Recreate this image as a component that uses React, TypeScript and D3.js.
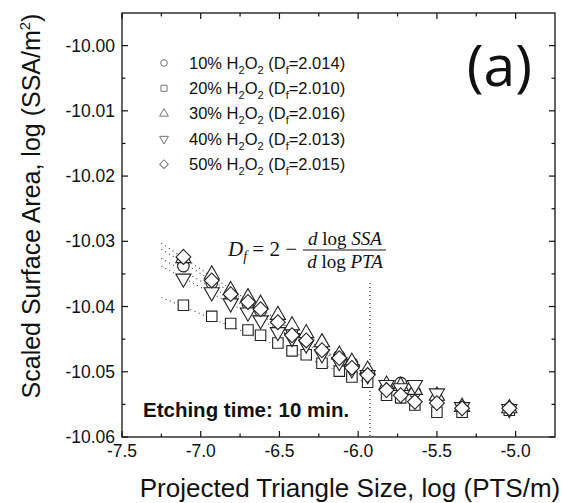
import React from "react";
import * as d3 from "d3";

// x positions, log(PTS/m)
const ptsLog = [-7.11, -6.93, -6.81, -6.7, -6.62, -6.51, -6.42, -6.33, -6.23, -6.12, -6.04, -5.94, -5.82, -5.73, -5.64, -5.5, -5.34, -5.04];

// log(SSA/m^2) for each H2O2 concentration
const ssa10 = [-10.0338, -10.0364, -10.0384, -10.0396, -10.0407, -10.0421, -10.0436, -10.0447, -10.0461, -10.0476, -10.0487, -10.0502, -10.0525, -10.0517, -10.0531, -10.0543, -10.0554, -10.0556];
const ssa20 = [-10.0398, -10.0415, -10.0426, -10.0436, -10.0444, -10.0456, -10.0468, -10.0474, -10.0487, -10.0499, -10.0508, -10.0516, -10.0536, -10.054, -10.0551, -10.0562, -10.0562, -10.0559];
const ssa30 = [-10.0326, -10.0351, -10.0375, -10.0386, -10.0396, -10.0413, -10.0429, -10.0441, -10.0455, -10.0474, -10.0485, -10.0497, -10.052, -10.0522, -10.0528, -10.0537, -10.0554, -10.0556];
const ssa40 = [-10.0357, -10.0378, -10.0395, -10.0409, -10.0421, -10.0439, -10.0448, -10.0458, -10.0473, -10.0485, -10.0496, -10.0505, -10.052, -10.0525, -10.052, -10.0533, -10.0554, -10.0557];
const ssa50 = [-10.0324, -10.036, -10.0381, -10.0393, -10.0404, -10.0424, -10.0444, -10.0452, -10.0467, -10.0479, -10.0494, -10.0505, -10.0528, -10.0536, -10.0546, -10.0548, -10.0556, -10.0556];

const concLabels = ["10%", "20%", "30%", "40%", "50%"];
const dfValues = ["2.014", "2.010", "2.016", "2.013", "2.015"];

// dotted fit lines (start / end)
const fitX = [-7.25, -5.93];
const fitStartY = [-10.0326, -10.0386, -10.0303, -10.0338, -10.0312];
const fitEndY = [-10.051, -10.0519, -10.0513, -10.051, -10.051];
const cutoffX = -5.925;

const xTicks = [-7.5, -7.0, -6.5, -6.0, -5.5, -5.0];
const xMinor = [-7.25, -6.75, -6.25, -5.75, -5.25];
const yTicks = [-10.06, -10.05, -10.04, -10.03, -10.02, -10.01, -10.0];
const yMinor = [-10.055, -10.045, -10.035, -10.025, -10.015, -10.005];

const W = 562, H = 503;
const L = 122, R = 555, T = 13, B = 437;
const font = "'Liberation Sans', Arial, sans-serif";

const shapes = ["circle", "square", "triUp", "triDown", "diamond"];
const allSeries = [ssa10, ssa20, ssa30, ssa40, ssa50];

function marker(shape: string, scale: number) {
  const k = scale * scale;
  if (shape === "circle") return { d: d3.symbol(d3.symbolCircle, 105 * k)()!, rot: 0 };
  if (shape === "square") return { d: d3.symbol(d3.symbolSquare, 110 * k)()!, rot: 0 };
  if (shape === "triUp") return { d: d3.symbol(d3.symbolTriangle, 100 * k)()!, rot: 0 };
  if (shape === "triDown") return { d: d3.symbol(d3.symbolTriangle, 100 * k)()!, rot: 180 };
  return { d: d3.symbol(d3.symbolSquare, 110 * k)()!, rot: 45 };
}

export default function App() {
  const x = d3.scaleLinear().domain([-7.5, -4.75]).range([L, R]);
  const y = d3.scaleLinear().domain([-10.06, -9.995]).range([B, T]);

  return (
    <svg width={W} height={H} style={{ position: "fixed", left: 0, top: 0, background: "#fff" }} fontFamily={font}>
      {/* fit lines */}
      {fitStartY.map((s, i) => (
        <line key={"fit" + i} x1={x(fitX[0])} y1={y(s)} x2={x(fitX[1])} y2={y(fitEndY[i])}
          stroke="#444" strokeWidth={1.1} strokeDasharray="1 3.5" />
      ))}
      <line x1={x(cutoffX)} x2={x(cutoffX)} y1={y(-10.0364)} y2={B} stroke="#222" strokeWidth={1.2} strokeDasharray="1 3" />

      {/* data markers */}
      {allSeries.map((vals, si) => {
        const m = marker(shapes[si], 1);
        return (
          <g key={"s" + si}>
            {vals.map((v, i) => (
              <path key={i} d={m.d} transform={`translate(${x(ptsLog[i])},${y(v)}) rotate(${m.rot})`}
                fill="#fff" stroke="#222" strokeWidth={1.1} />
            ))}
          </g>
        );
      })}

      {/* frame */}
      <rect x={L} y={T} width={R - L} height={B - T} fill="none" stroke="#111" strokeWidth={1.3} />

      {/* x ticks */}
      {xTicks.map(t => (
        <g key={"xt" + t}>
          <line x1={x(t)} x2={x(t)} y1={B} y2={B - 6} stroke="#111" strokeWidth={1.2} />
          <line x1={x(t)} x2={x(t)} y1={T} y2={T + 6} stroke="#111" strokeWidth={1.2} />
          <text x={x(t)} y={B + 20} fontSize={17.5} textAnchor="middle" fill="#111">{t.toFixed(1)}</text>
        </g>
      ))}
      {xMinor.map(t => (
        <g key={"xm" + t}>
          <line x1={x(t)} x2={x(t)} y1={B} y2={B - 3.5} stroke="#111" strokeWidth={1.2} />
          <line x1={x(t)} x2={x(t)} y1={T} y2={T + 3.5} stroke="#111" strokeWidth={1.2} />
        </g>
      ))}

      {/* y ticks */}
      {yTicks.map(t => (
        <g key={"yt" + t}>
          <line x1={L} x2={L + 6} y1={y(t)} y2={y(t)} stroke="#111" strokeWidth={1.2} />
          <line x1={R} x2={R - 6} y1={y(t)} y2={y(t)} stroke="#111" strokeWidth={1.2} />
          <text x={115} y={y(t)} dy="0.35em" fontSize={17.5} textAnchor="end" fill="#111">{t.toFixed(2)}</text>
        </g>
      ))}
      {yMinor.map(t => (
        <g key={"ym" + t}>
          <line x1={L} x2={L + 3.5} y1={y(t)} y2={y(t)} stroke="#111" strokeWidth={1.2} />
          <line x1={R} x2={R - 3.5} y1={y(t)} y2={y(t)} stroke="#111" strokeWidth={1.2} />
        </g>
      ))}

      {/* axis titles */}
      <text x={350} y={497} fontSize={26} textAnchor="middle" fill="#111">
        Projected Triangle Size, log (PTS/m)
      </text>
      <text transform={`translate(40,${206}) rotate(-90)`} fontSize={25} textAnchor="middle" fill="#111">
        Scaled Surface Area, log (SSA/m<tspan dy={-10} fontSize={15}>2</tspan><tspan dy={10}>)</tspan>
      </text>

      {/* panel label */}
      <text x={532} y={86} fontSize={57} textAnchor="end" fill="#111" fontFamily="'Open Sans', sans-serif">(a)</text>

      {/* legend */}
      {concLabels.map((c, i) => {
        const m = marker(shapes[i], 0.58);
        const ly = 63 + i * 25.3;
        return (
          <g key={"lg" + i}>
            <path d={m.d} transform={`translate(164,${ly}) rotate(${m.rot})`} fill="#fff" stroke="#777" strokeWidth={1} />
            <text x={189} y={ly} dy="0.35em" fontSize={16.5} fill="#111">
              {c} H<tspan dy={5} fontSize={11}>2</tspan><tspan dy={-5}>O</tspan><tspan dy={5} fontSize={11}>2</tspan>
              <tspan dy={-5}> (D</tspan><tspan dy={5} fontSize={11}>f</tspan><tspan dy={-5}>={dfValues[i]})</tspan>
            </text>
          </g>
        );
      })}

      {/* formula */}
      <g fontFamily="'Liberation Serif', 'Times New Roman', serif" fill="#111">
        <text x={228} y={256} fontSize={21}>
          <tspan fontStyle="italic">D</tspan><tspan dy={5} fontSize={14} fontStyle="italic">f</tspan>
          <tspan dy={-5}> = 2 − </tspan>
        </text>
        <text x={345} y={245} fontSize={19} textAnchor="middle">
          <tspan fontStyle="italic">d</tspan> log <tspan fontStyle="italic">SSA</tspan>
        </text>
        <line x1={303} x2={386} y1={250} y2={250} stroke="#111" strokeWidth={1} />
        <text x={345} y={268} fontSize={19} textAnchor="middle">
          <tspan fontStyle="italic">d</tspan> log <tspan fontStyle="italic">PTA</tspan>
        </text>
      </g>

      {/* annotation */}
      <text x={143} y={417} fontSize={20.5} fontWeight="bold" fill="#111">Etching time: 10 min.</text>
    </svg>
  );
}
